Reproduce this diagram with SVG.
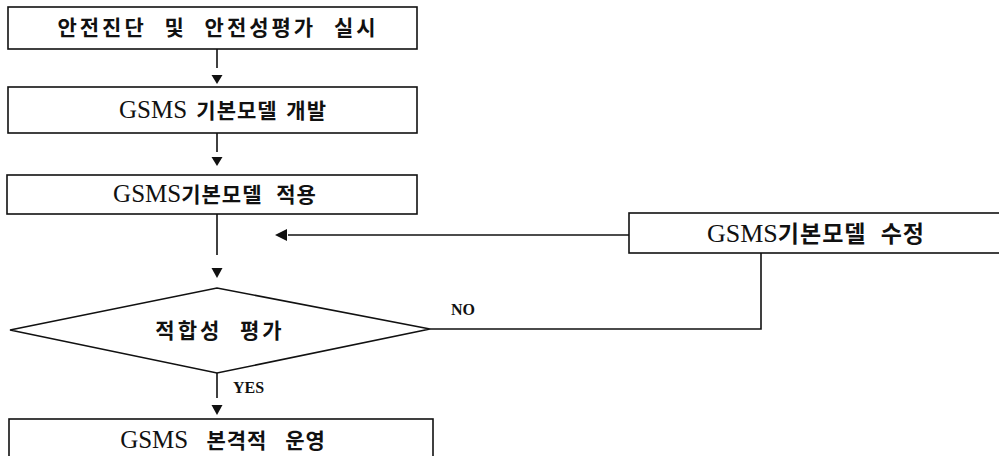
<svg xmlns="http://www.w3.org/2000/svg" width="999" height="456" viewBox="0 0 999 456">
<style>
.box{fill:#fff;stroke:#111;stroke-width:1.6}
.ln{fill:none;stroke:#111;stroke-width:1.6}
.tri{fill:#111;stroke:none}
.t{font-family:"Liberation Serif","Noto Sans CJK KR",serif;font-size:25px;fill:#111;text-anchor:middle;word-spacing:8px}
.k{font-family:"Noto Sans CJK KR",sans-serif;font-size:21px;font-weight:bold;letter-spacing:1px}
.w{letter-spacing:3px;word-spacing:10px}
.big{font-size:26px}
.big .k{font-size:23px}
.lbl{font-family:"Liberation Serif",serif;font-size:16px;font-weight:bold;fill:#111}
</style>
<rect width="999" height="456" fill="#fff"/>
<g id="n1">
<rect class="box" x="8" y="7" width="409" height="42"/>
<text class="t" x="218" y="35"><tspan class="k w">안전진단 및 안전성평가 실시</tspan></text>
</g>
<g id="n2">
<rect class="box" x="8" y="87" width="409" height="46"/>
<text class="t" x="223" y="118" style="word-spacing:3px">GSMS <tspan class="k">기본모델 개발</tspan></text>
</g>
<g id="n3">
<rect class="box" x="7" y="175" width="410" height="39"/>
<text class="t" x="215" y="202">GSMS<tspan class="k">기본모델 적용</tspan></text>
</g>
<g id="n4">
<polygon class="box" points="10,330 217,288 430,329 217,373"/>
<text class="t" x="220" y="338"><tspan class="k w">적합성 평가</tspan></text>
</g>
<g id="n5">
<rect class="box" x="9" y="419" width="424" height="50"/>
<text class="t" x="223" y="448" style="word-spacing:12px">GSMS <tspan class="k">본격적 운영</tspan></text>
</g>
<g id="n6">
<rect class="box" x="629" y="213" width="380" height="40"/>
<text class="t big" x="816" y="242">GSMS<tspan class="k">기본모델 수정</tspan></text>
</g>
<g id="connectors">
<path class="ln" d="M217,49 V68"/>
<path class="tri" d="M211.5,75 H222.5 L217,84 Z"/>
<path class="ln" d="M217,133 V152"/>
<path class="tri" d="M211.5,157 H222.5 L217,166 Z"/>
<path class="ln" d="M217,214 V255"/>
<path class="tri" d="M211.5,268 H222.5 L217,278 Z"/>
<path class="ln" d="M217,373 V398"/>
<path class="tri" d="M211.5,405 H222.5 L217,415 Z"/>
<path class="ln" d="M430,329 H761 V253"/>
<path class="ln" d="M629,235 H288"/>
<path class="tri" d="M275,235 L287,229 V241 Z"/>
<text class="lbl" x="451" y="315">NO</text>
<text class="lbl" x="233" y="393">YES</text>
</g>
</svg>
